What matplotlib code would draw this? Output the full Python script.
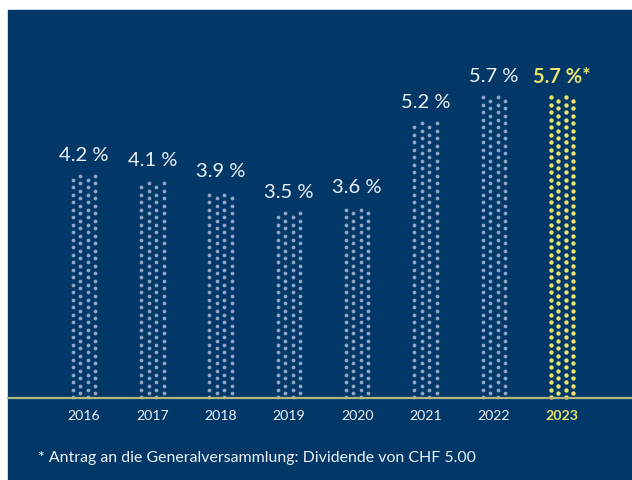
import numpy as np
import matplotlib.pyplot as plt
from matplotlib.patches import Rectangle

plt.rcParams['font.family'] = ['Lato', 'DejaVu Sans']

years = ['2016', '2017', '2018', '2019', '2020', '2021', '2022', '2023']
yields = [4.2, 4.1, 3.9, 3.5, 3.6, 5.2, 5.7, 5.7]
labels = ['4.2 %', '4.1 %', '3.9 %', '3.5 %', '3.6 %', '5.2 %', '5.7 %', '5.7 %*']
footnote = '* Antrag an die Generalversammlung: Dividende von CHF 5.00'

navy = '#013868'
dot_grey = '#93a4c4'
yellow = '#e8e46c'
text_col = '#eef1f6'
base_col = '#b3b77d'

W, H = 632, 480
fig = plt.figure(figsize=(W / 100, H / 100), dpi=100, facecolor='white')
fig.add_artist(Rectangle((8 / W, 0), 1, 470 / H, transform=fig.transFigure,
                         color=navy, zorder=0))

# pixels per data unit
px_x = 68.3
px_y = 52.7
ax = fig.add_axes([(84 - px_x / 2) / W, 83 / H, 8 * px_x / W, 6.3 * px_y / H])
ax.set_xlim(-0.5, 7.5)
ax.set_ylim(0, 6.3)
ax.axis('off')
ax.patch.set_alpha(0)

col_off = np.array([-11.25, -3.75, 3.75, 11.25]) / px_x
step = 7.5 / px_y

for i, v in enumerate(yields):
    last = i == len(yields) - 1
    c = yellow if last else dot_grey
    s = 10 if last else 7.5
    xs, ys = [], []
    for j, dx in enumerate(col_off):
        phase = 0.0 if j % 2 == 0 else 0.5
        rows = np.arange(phase * step, v + 1e-6, step)
        xs += [i + dx] * len(rows)
        ys += list(rows)
    ax.scatter(xs, ys, s=s, color=c, linewidths=0, clip_on=False, zorder=2)
    ax.text(i, v + 20 / px_y, labels[i], ha='center', va='center',
            fontsize=14.5, color=yellow if last else text_col,
            fontweight='bold' if last else 'normal')
    ax.text(i, -19 / px_y, years[i], ha='center', va='center', fontsize=10.2,
            color=yellow if last else text_col,
            fontweight='bold' if last else 'normal')

fig.add_artist(plt.Line2D([8 / W, 1], [(H - 397.5) / H] * 2,
                          transform=fig.transFigure, color=base_col, lw=1.6, zorder=3))

fig.text(38 / W, (H - 458) / H, footnote, ha='left', va='center',
         fontsize=11.4, color=text_col)

fig.savefig('out.png', dpi=100, facecolor='white')
